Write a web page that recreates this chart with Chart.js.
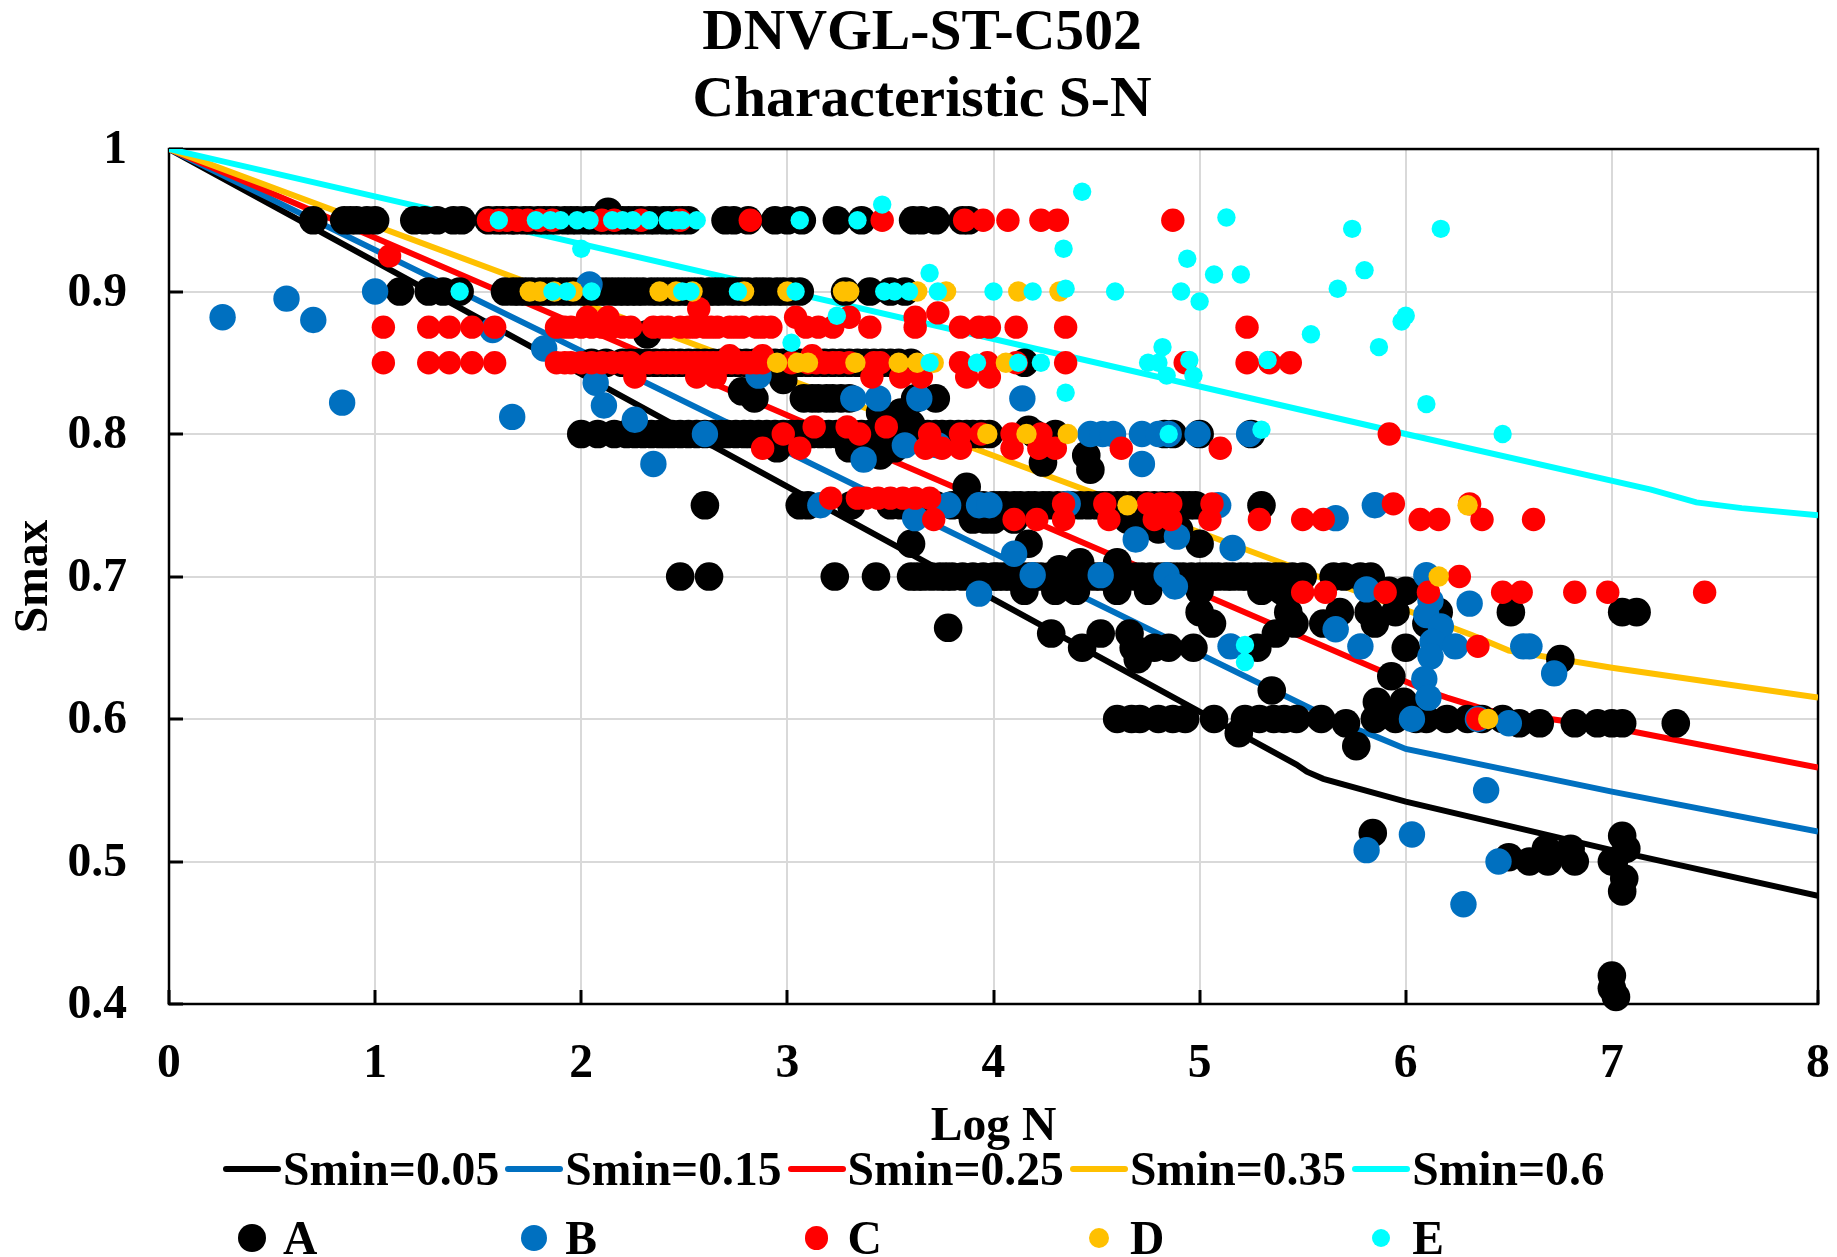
<!DOCTYPE html>
<html lang="en">
  <head>
    <script src="https://cdn.jsdelivr.net/npm/chart.js"></script>
    <meta charset="UTF-8" />
    <title>DNVGL-ST-C502 Characteristic S-N</title>
    <style>
      body { margin: 0; background: #fff; font-family: "Liberation Serif", serif; font-weight: bold; }
      #wrap { position: relative; width: 1837px; height: 1257px; overflow: hidden; }
      #wrap canvas { position: absolute; left: 0; top: 0; }
      .item { position: absolute; font-size: 47.6px; line-height: 56px; color: #000; white-space: nowrap; }
      .swatch { position: absolute; }
    </style>
  </head>
  <body>
    <div id="wrap">
      <canvas id="chart" width="1837" height="1257"></canvas>
    </div>
    <script>
      const titleLines = ["DNVGL-ST-C502", "Characteristic S-N"];
      const xTicks = [0, 1, 2, 3, 4, 5, 6, 7, 8];
      const yTicks = [0.4, 0.5, 0.6, 0.7, 0.8, 0.9, 1];

      // design curves, [logN, Smax]
      const curve005 = [[0, 1], [5.47, 0.568], [5.52, 0.563], [5.6, 0.558], [6, 0.542], [7, 0.508], [8, 0.476]];
      const curve015 = [[0, 1], [5.7, 0.596], [5.85, 0.588], [6, 0.579], [7, 0.549], [8, 0.521]];
      const curve025 = [[0, 1], [6.1, 0.62], [6.2, 0.615], [6.4, 0.606], [7, 0.594], [8, 0.566]];
      const curve035 = [[0, 1], [5.41, 0.709], [6.32, 0.659], [6.5, 0.648], [7, 0.636], [8, 0.615]];
      const curve060 = [[0, 1], [6, 0.8], [7.19, 0.761], [7.41, 0.752], [7.63, 0.748], [8, 0.743]];

      // test data, rows of [Smax, [logN, ...]]
      const groupA = [
        [0.956, [2.13]],
        [0.95, [0.7, 0.85, 0.88, 0.91, 0.96, 1.0, 1.19, 1.24, 1.3, 1.38, 1.42, 1.55, 1.59, 1.62, 1.66, 1.68, 1.72, 1.75, 1.79, 1.82, 1.85, 1.88, 1.92, 1.95, 1.98, 2.02, 2.05, 2.08, 2.11, 2.14, 2.17, 2.2, 2.23, 2.26, 2.29, 2.33, 2.36, 2.4, 2.43, 2.46, 2.49, 2.52, 2.7, 2.74, 2.81, 2.94, 3.0, 3.07, 3.24, 3.36, 3.61, 3.65, 3.72, 3.85, 3.88]],
        [0.9, [1.12, 1.26, 1.33, 1.41, 1.63, 1.67, 1.7, 1.73, 1.76, 1.8, 1.83, 1.86, 1.9, 1.93, 1.96, 2.0, 2.03, 2.06, 2.09, 2.12, 2.15, 2.18, 2.21, 2.24, 2.27, 2.3, 2.34, 2.37, 2.4, 2.43, 2.46, 2.49, 2.52, 2.55, 2.58, 2.62, 2.65, 2.68, 2.72, 2.75, 2.78, 2.81, 2.85, 2.88, 2.91, 2.95, 2.98, 3.02, 3.06, 3.28, 3.4, 3.5, 3.57]],
        [0.87, [2.32]],
        [0.85, [2.05, 2.12, 2.2, 2.24, 2.28, 2.32, 2.36, 2.4, 2.44, 2.48, 2.52, 2.56, 2.6, 2.64, 2.68, 2.72, 2.76, 2.8, 2.84, 2.9, 2.94, 2.98, 3.02, 3.06, 3.1, 3.14, 3.18, 3.22, 3.26, 3.3, 3.34, 3.38, 3.42, 3.46, 3.5, 3.54, 3.6, 4.15]],
        [0.838, [2.98]],
        [0.83, [2.78, 2.82]],
        [0.825, [2.84, 3.08, 3.12, 3.15, 3.19, 3.22, 3.26, 3.3, 3.62, 3.72]],
        [0.815, [3.45, 3.55]],
        [0.807, [3.52, 3.6]],
        [0.803, [4.17]],
        [0.8, [2.0, 2.08, 2.16, 2.22, 2.26, 2.3, 2.34, 2.38, 2.41, 2.44, 2.48, 2.52, 2.56, 2.6, 2.64, 2.68, 2.71, 2.75, 2.79, 2.82, 2.86, 2.9, 2.94, 2.98, 3.02, 3.05, 3.09, 3.12, 3.16, 3.2, 3.24, 3.28, 3.32, 3.36, 3.4, 3.44, 3.48, 3.52, 3.56, 3.6, 3.64, 3.68, 3.72, 3.75, 3.79, 3.83, 3.87, 3.9, 3.94, 3.98, 4.2, 4.3, 4.83, 4.87, 5.0, 5.25]],
        [0.79, [2.95, 3.3, 3.4, 3.52]],
        [0.785, [3.45, 4.45]],
        [0.78, [4.24]],
        [0.775, [4.47]],
        [0.763, [3.87]],
        [0.75, [2.6, 3.06, 3.1, 3.31, 3.5, 3.55, 3.6, 3.65, 3.72, 3.8, 3.85, 3.9, 3.95, 4.0, 4.03, 4.06, 4.1, 4.13, 4.17, 4.2, 4.24, 4.27, 4.31, 4.35, 4.38, 4.42, 4.46, 4.5, 4.53, 4.56, 4.6, 4.63, 4.67, 4.7, 4.74, 4.78, 4.82, 4.85, 4.89, 4.92, 4.95, 4.98, 5.3]],
        [0.74, [3.9, 3.96, 4.0, 4.1, 4.65]],
        [0.733, [4.7, 4.8, 4.9]],
        [0.723, [5.0, 4.17, 3.6]],
        [0.71, [4.42, 4.6]],
        [0.705, [4.32, 4.4]],
        [0.7, [2.48, 2.62, 3.23, 3.43, 3.6, 3.63, 3.66, 3.7, 3.74, 3.77, 3.8, 3.85, 3.9, 3.95, 4.0, 4.02, 4.05, 4.08, 4.1, 4.14, 4.17, 4.2, 4.23, 4.27, 4.3, 4.33, 4.37, 4.41, 4.45, 4.49, 4.52, 4.55, 4.58, 4.62, 4.65, 4.69, 4.72, 4.76, 4.8, 4.83, 4.86, 4.89, 4.92, 4.96, 5.0, 5.03, 5.06, 5.09, 5.13, 5.16, 5.2, 5.23, 5.27, 5.3, 5.33, 5.37, 5.4, 5.45, 5.5, 5.65, 5.7, 5.78, 5.83]],
        [0.69, [4.15, 4.3, 4.4, 4.6, 4.75, 5.0, 5.3, 5.4, 5.92, 6.0]],
        [0.675, [5.0, 5.43, 5.68, 5.95, 6.16, 6.51, 7.05, 7.12, 5.82]],
        [0.667, [5.06, 5.46, 5.6, 5.85, 6.1]],
        [0.664, [3.78]],
        [0.66, [4.28, 4.52, 4.66, 5.37]],
        [0.65, [4.43, 4.68, 4.78, 4.85, 4.97, 5.28, 6.0]],
        [0.642, [4.7, 6.75]],
        [0.63, [5.93]],
        [0.62, [5.35]],
        [0.612, [5.86, 5.99]],
        [0.6, [4.6, 4.67, 4.71, 4.8, 4.87, 4.93, 5.07, 5.22, 5.29, 5.36, 5.41, 5.47, 5.59, 5.85, 5.95, 6.05, 6.1, 6.2, 6.3, 6.37, 6.47]],
        [0.597, [5.71, 6.55, 6.65, 6.82, 6.93, 7.0, 7.05, 7.31]],
        [0.59, [5.19]],
        [0.581, [5.76]],
        [0.52, [5.84]],
        [0.518, [7.05]],
        [0.509, [6.68, 6.8, 7.07]],
        [0.503, [6.5]],
        [0.5, [6.6, 6.69, 6.82, 7.0, 7.01]],
        [0.488, [7.06]],
        [0.479, [7.05]],
        [0.42, [7.0]],
        [0.411, [7.0]],
        [0.405, [7.02]],
      ];
      const groupB = [
        [0.905, [2.04]],
        [0.9, [1.0]],
        [0.895, [0.57]],
        [0.882, [0.26]],
        [0.88, [0.7]],
        [0.873, [1.57]],
        [0.86, [1.82]],
        [0.841, [2.86]],
        [0.836, [2.07]],
        [0.825, [3.32, 3.44, 3.64, 4.14]],
        [0.822, [0.84]],
        [0.82, [2.11]],
        [0.812, [1.665]],
        [0.81, [2.26]],
        [0.8, [2.6, 4.47, 4.53, 4.58, 4.72, 4.8, 4.85, 4.99, 5.24]],
        [0.792, [3.57, 3.73]],
        [0.782, [3.37]],
        [0.779, [2.35, 4.72]],
        [0.751, [4.36]],
        [0.75, [3.16, 3.78, 3.93, 3.98, 5.09, 5.85]],
        [0.741, [3.62, 5.66]],
        [0.728, [4.89]],
        [0.726, [4.69]],
        [0.72, [5.16]],
        [0.716, [4.1]],
        [0.701, [4.19, 4.52, 4.84, 6.1]],
        [0.693, [4.88]],
        [0.691, [5.81]],
        [0.688, [3.93]],
        [0.683, [6.12]],
        [0.681, [6.31]],
        [0.673, [6.1]],
        [0.665, [6.17]],
        [0.663, [5.66]],
        [0.654, [6.13]],
        [0.651, [5.15, 5.78, 6.24, 6.57, 6.6]],
        [0.644, [6.12]],
        [0.632, [6.72]],
        [0.628, [6.09]],
        [0.615, [6.11]],
        [0.6, [6.03, 6.35]],
        [0.597, [6.5]],
        [0.55, [6.39]],
        [0.519, [6.03]],
        [0.508, [5.81]],
        [0.5, [6.45]],
        [0.47, [6.28]],
      ];
      const groupC = [
        [0.95, [1.55, 1.6, 1.64, 1.69, 1.74, 1.8, 1.86, 2.1, 2.16, 2.29, 2.48, 2.82, 3.46, 3.86, 3.95, 4.07, 4.23, 4.31, 4.87]],
        [0.925, [1.07]],
        [0.888, [2.57]],
        [0.885, [3.73]],
        [0.882, [3.04, 3.3, 3.62, 2.03, 2.13]],
        [0.875, [1.04, 1.26, 1.36, 1.47, 1.58, 1.88, 1.92, 1.95, 2.0, 2.05, 2.1, 2.15, 2.2, 2.24, 2.35, 2.39, 2.42, 2.48, 2.52, 2.55, 2.6, 2.63, 2.66, 2.72, 2.75, 2.78, 2.85, 2.88, 2.92, 3.09, 3.15, 3.22, 3.4, 3.62, 3.84, 3.93, 3.98, 4.11, 4.35, 5.23]],
        [0.85, [1.04, 1.26, 1.36, 1.47, 1.58, 1.88, 1.92, 1.95, 2.0, 2.05, 2.1, 2.15, 2.2, 2.24, 2.33, 2.37, 2.4, 2.43, 2.46, 2.49, 2.52, 2.55, 2.58, 2.61, 2.64, 2.67, 2.7, 2.73, 2.76, 2.79, 2.82, 2.85, 2.88, 3.02, 3.1, 3.14, 3.18, 3.22, 3.25, 3.3, 3.42, 3.45, 3.84, 3.97, 4.11, 4.35, 4.93, 5.23, 5.34, 5.44]],
        [0.855, [2.72, 2.88, 3.12]],
        [0.84, [2.26, 2.56, 2.65, 3.41, 3.55, 3.65, 3.87, 3.98]],
        [0.805, [3.13, 3.29, 3.48]],
        [0.8, [2.98, 3.35, 3.69, 3.84, 3.94, 4.09, 4.23, 5.92]],
        [0.79, [2.88, 3.06, 3.67, 3.75, 3.84, 4.09, 4.22, 4.3, 4.62, 5.1]],
        [0.755, [3.21, 3.34, 3.38, 3.44, 3.5, 3.56, 3.62, 3.69]],
        [0.751, [4.54, 4.75, 4.81, 4.86, 5.06, 4.34, 5.94, 6.31]],
        [0.74, [3.71, 4.1, 4.21, 4.34, 4.56, 4.78, 4.86, 5.05, 5.29, 5.5, 5.6, 6.07, 6.16, 6.37, 6.62]],
        [0.7, [6.26]],
        [0.689, [5.5, 5.61, 5.9, 6.11, 6.47, 6.56, 6.82, 6.98, 7.45]],
        [0.651, [6.35]],
        [0.6, [6.35]],
      ];
      const groupD = [
        [0.9, [1.75, 1.8, 1.87, 1.96, 2.38, 2.46, 2.54, 2.79, 3.0, 3.27, 3.3, 3.63, 3.77, 4.12, 4.32]],
        [0.85, [2.95, 3.05, 3.1, 3.33, 3.54, 3.63, 3.71, 4.06]],
        [0.8, [3.97, 4.16, 4.36]],
        [0.75, [4.65, 6.3]],
        [0.7, [6.16]],
        [0.6, [6.4]],
      ];
      const groupE = [
        [0.97, [4.43]],
        [0.961, [3.46]],
        [0.952, [5.13]],
        [0.95, [1.6, 1.78, 1.85, 1.9, 1.98, 2.04, 2.15, 2.2, 2.25, 2.33, 2.42, 2.46, 2.49, 2.56, 3.06, 3.34]],
        [0.944, [5.74, 6.17]],
        [0.93, [2.0, 4.34]],
        [0.923, [4.94]],
        [0.915, [5.8]],
        [0.913, [3.69]],
        [0.912, [5.07, 5.2]],
        [0.902, [5.67, 4.35]],
        [0.9, [1.41, 1.86, 1.93, 2.05, 2.49, 2.53, 2.76, 3.04, 3.47, 3.52, 3.59, 3.73, 4.0, 4.19, 4.59, 4.91]],
        [0.893, [5.0]],
        [0.883, [6.0, 3.24]],
        [0.879, [5.98]],
        [0.87, [5.54]],
        [0.864, [3.02]],
        [0.861, [5.87, 4.82]],
        [0.852, [4.95, 5.33]],
        [0.85, [3.69, 3.92, 4.12, 4.23, 4.75, 4.8]],
        [0.841, [4.84, 4.97]],
        [0.829, [4.35]],
        [0.821, [6.1]],
        [0.803, [5.3]],
        [0.8, [4.85, 6.47]],
        [0.652, [5.22]],
        [0.64, [5.22]],
      ];

      const curves = [
        { label: "Smin=0.05", color: "#000000", rows: curve005 },
        { label: "Smin=0.15", color: "#0070C0", rows: curve015 },
        { label: "Smin=0.25", color: "#FF0000", rows: curve025 },
        { label: "Smin=0.35", color: "#FFC000", rows: curve035 },
        { label: "Smin=0.6", color: "#00FFFF", rows: curve060 },
      ];
      const groups = [
        { label: "A", color: "#000000", radius: 14.3, rows: groupA },
        { label: "B", color: "#0070C0", radius: 13.2, rows: groupB },
        { label: "C", color: "#FF0000", radius: 11.7, rows: groupC },
        { label: "D", color: "#FFC000", radius: 10.2, rows: groupD },
        { label: "E", color: "#00FFFF", radius: 9.2, rows: groupE },
      ];

      const serif = "'Liberation Serif', serif";
      const axisFont = { family: serif, size: 47.6, weight: "bold" };

      const datasets = [];
      // lower order is painted last in chart.js, so E ends up on top
      groups.forEach((g, i) => {
        datasets.push({
          label: g.label,
          data: g.rows.flatMap(([s, xs]) => xs.map((x) => ({ x: x, y: s }))),
          backgroundColor: g.color,
          borderWidth: 0,
          pointRadius: g.radius,
          pointHoverRadius: g.radius,
          clip: false,
          order: 5 - i,
        });
      });
      curves.forEach((c, i) => {
        datasets.push({
          label: c.label,
          data: c.rows.map(([x, y]) => ({ x: x, y: y })),
          showLine: true,
          borderColor: c.color,
          borderWidth: 6,
          pointRadius: 0,
          order: 20 - i,
        });
      });

      const frame = {
        id: "frame",
        beforeDatasetsDraw(chart) {
          const { ctx, chartArea: a } = chart;
          ctx.save();
          ctx.strokeStyle = "#000";
          ctx.lineWidth = 2.5;
          ctx.strokeRect(a.left, a.top, a.right - a.left, a.bottom - a.top);
          ctx.restore();
        },
      };

      new Chart(document.getElementById("chart"), {
        type: "scatter",
        data: { datasets: datasets },
        plugins: [frame],
        options: {
          responsive: false,
          animation: false,
          // left padding only nudges the centred title, the y scale takes the rest
          layout: { padding: { left: 26, right: 19, top: 0, bottom: 101 } },
          plugins: {
            legend: { display: false },
            tooltip: { enabled: false },
            title: {
              display: true,
              text: titleLines,
              color: "#000",
              font: { family: serif, size: 57.6, weight: "bold", lineHeight: 1.16 },
              padding: { top: 1, bottom: 14.4 },
            },
          },
          scales: {
            x: {
              type: "linear",
              min: 0,
              max: 8,
              afterBuildTicks(scale) { scale.ticks = xTicks.map((v) => ({ value: v })); },
              afterFit(scale) { scale.height = 152; scale.paddingLeft = 0; scale.paddingRight = 0; },
              grid: { color: "#d9d9d9", lineWidth: 2, tickLength: -14, tickColor: "#000", tickWidth: 3 },
              border: { display: false },
              ticks: { color: "#000", font: axisFont, padding: 46, maxRotation: 0, autoSkip: false },
              title: { display: true, text: "Log N", color: "#000", font: axisFont, padding: 0 },
            },
            y: {
              type: "linear",
              min: 0.4,
              max: 1,
              afterBuildTicks(scale) { scale.ticks = yTicks.map((v) => ({ value: v })); },
              afterFit(scale) { scale.width = 143; scale.paddingTop = 0; scale.paddingBottom = 0; },
              grid: { color: "#d9d9d9", lineWidth: 2, tickLength: -14, tickColor: "#000", tickWidth: 3 },
              border: { display: false },
              ticks: { color: "#000", font: axisFont, padding: 56, labelOffset: 2, autoSkip: false, callback: (v) => String(v) },
              title: { display: true, text: "Smax", color: "#000", font: { family: serif, size: 47.6, weight: "bold", lineHeight: 0.38 }, padding: 0 },
            },
          },
        },
      });

      // legend has to line up in columns, the built in one can't do that
      const wrap = document.getElementById("wrap");
      function addLegendText(text, left, centerY) {
        const el = document.createElement("div");
        el.className = "item";
        el.textContent = text;
        el.style.left = left + "px";
        el.style.top = centerY - 28 + "px";
        wrap.appendChild(el);
      }
      curves.forEach((c, i) => {
        const sw = document.createElement("div");
        sw.className = "swatch";
        sw.style.cssText = "left:" + (223 + i * 282.3) + "px;top:1166px;width:58px;height:6px;border-radius:3px;background:" + c.color;
        wrap.appendChild(sw);
        addLegendText(c.label, 283 + i * 282.3, 1169);
      });
      groups.forEach((g, i) => {
        const sw = document.createElement("div");
        sw.className = "swatch";
        const d = g.radius * 2;
        sw.style.cssText = "left:" + (252 + i * 282.3 - g.radius) + "px;top:" + (1238 - g.radius) + "px;width:" + d + "px;height:" + d + "px;border-radius:50%;background:" + g.color;
        wrap.appendChild(sw);
        addLegendText(g.label, 283 + i * 282.3, 1238);
      });
    </script>
  </body>
</html>
